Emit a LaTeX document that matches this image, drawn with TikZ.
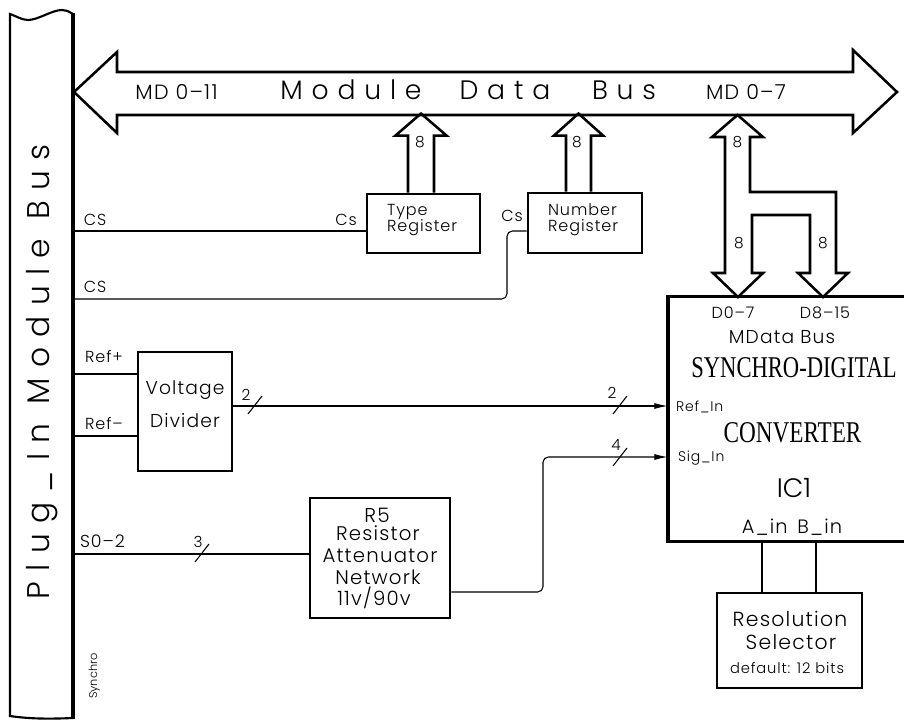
\documentclass[tikz,border=0pt]{standalone}
\usepackage{fontspec}
\usepackage{graphicx}
\setmainfont{Poppins Light}[LetterSpace=6]
\newfontfamily\widefam{Poppins Light}[LetterSpace=33]
\newfontfamily\plainfam{Poppins Light}
\newfontfamily\serifc{Liberation Serif}
\usetikzlibrary{arrows.meta,calc}
\newcommand{\fs}[1]{\fontsize{#1}{#1}\selectfont}
\begin{document}
\begin{tikzpicture}[x=0.75pt,y=-0.75pt,
  wire/.style={line width=0.8pt},
  box/.style={draw, line width=2.2pt, inner sep=0pt},
  busline/.style={line width=1.9pt, line join=miter},
  lbl/.style={anchor=base, inner sep=0pt, outer sep=0pt},
  tip/.style={-{Latex[length=10pt,width=4.5pt]}},
  wslash/.pic={\draw[wire] (-7,9) -- (7,-9);}
]
\useasboundingbox (0,0) rectangle (904,721);

% ---------- Plug-in module bus bar ----------
\draw[line width=1.6pt] (73,14) .. controls (68,11) and (66,10) .. (62,10)
  .. controls (52,10) and (38,20) .. (28,20) .. controls (22,20) and (16,16) .. (10,14)
  -- (10,716) .. controls (30,719) and (50,719) .. (73,718);
\draw[line width=2.6pt] (73,13) -- (73,719);
\node[lbl, rotate=90, font=\widefam\fs{23.5}] (pimb) at (50,372) {Plug\_In Module Bus};
\node[lbl, rotate=90, font=\plainfam\fs{8.5}] (syn) at (97,676) {Synchro};

% ---------- Module data bus ----------
\draw[busline] (74,92) -- (117,52) -- (117,72) -- (853,72) -- (853,50) -- (897,92)
  -- (853,133) -- (853,115) -- (117,115) -- (117,133) -- cycle;
\node[lbl, font=\fs{15.5}] (md11) at (176.5,99) {MD 0–11};
\node[lbl, font=\widefam\fs{20}] (w1) at (351,99) {Module};
\node[lbl, font=\widefam\fs{20}] (w2) at (505,99) {Data};
\node[lbl, font=\widefam\fs{20}] (w3) at (624,99) {Bus};
\node[lbl, font=\fs{15.5}] (md7) at (746,99) {MD 0–7};

% ---------- registers ----------
\node[box, minimum width=84.75pt, minimum height=44.25pt] (tr) at (423.5,223.5) {};
\node[lbl, anchor=base west, font=\fs{12}] at (387,215) {Type};
\node[lbl, anchor=base west, font=\fs{12}] at (387,231) {Register};
\node[box, minimum width=85.5pt, minimum height=45pt] (nr) at (585,223) {};
\node[lbl, anchor=base west, font=\fs{12}] at (548,215) {Number};
\node[lbl, anchor=base west, font=\fs{12}] at (548,231) {Register};

\draw[busline] ($(tr.north)+(-15.5,0)$) -- ++(0,-57) -- ++(-12.5,0) -- ++(25.5,-22)
  -- ++(25.5,22) -- ++(-12.5,0) -- ++(0,57);
\node[lbl, font=\fs{11.5}] at (420,147) {8};
\draw[busline] ($(nr.north)+(-19,0)$) -- ++(0,-56) -- ++(-12,0) -- ++(24.5,-22)
  -- ++(24.5,22) -- ++(-12,0) -- ++(0,56);
\node[lbl, font=\fs{11.5}] at (577,147) {8};

% ---------- chip-select lines ----------
\coordinate (cs1) at (73,231);
\coordinate (cs2) at (73,299);
\coordinate (ycs) at (0,231);
\coordinate (xcs) at (507,0);
\draw[wire] (cs1) -- (cs1 -| tr.west);
\draw[wire, rounded corners=4pt] (cs2) -- (xcs |- cs2) -- (xcs |- ycs) -- (nr.west |- ycs);
\node[lbl, font=\fs{12}] at (95,225) {CS};
\node[lbl, font=\fs{12}] at (346,225) {Cs};
\node[lbl, font=\fs{12}] at (95,292) {CS};
\node[lbl, font=\fs{12}] at (512,221) {Cs};

% ---------- converter ----------
\node[minimum width=180pt, minimum height=183pt, inner sep=0pt] (cv) at (788,419) {};
\draw[line width=2.3pt] (cv.north east) -- (cv.north west) -- (cv.south west) -- (cv.south east);
\draw[line width=3.2pt] (cv.north west) -- (cv.south west);
\node[lbl, font=\fs{12}] at (733,318) {D0–7};
\node[lbl, font=\fs{12}] at (825,318) {D8–15};
\node[lbl, font=\fs{14}] at (782,343) {MData Bus};
\node[lbl, font=\serifc\fs{22.6}] at (794,377) {\scalebox{0.75}[1]{SYNCHRO-DIGITAL}};
\node[lbl, font=\serifc\fs{22.6}] at (792.5,442) {\scalebox{0.77}[1]{CONVERTER}};
\node[lbl, anchor=base west, font=\fs{10.5}] at (676,411) {Ref\_In};
\node[lbl, anchor=base west, font=\fs{10.5}] at (678,461) {Sig\_In};
\node[lbl, font=\plainfam\fs{20}] at (794,497) {IC1};
\node[lbl, font=\fs{14.5}] at (792,533) {A\_in\, B\_in};

% converter data bus (from module bus, split 8+8)
\draw[busline] (725,137) -- (725,273) -- (713,273) -- (738,297) -- (763,273) -- (752,273)
  -- (752,215) -- (810,215) -- (810,273) -- (798,273) -- (823,297) -- (848,273)
  -- (836,273) -- (836,192) -- (750,192) -- (750,137) -- (763,137) -- (737.5,115)
  -- (712,137) -- cycle;
\node[lbl, font=\fs{11.5}] at (737.5,147) {8};
\node[lbl, font=\fs{11.5}] at (739,248) {8};
\node[lbl, font=\fs{11.5}] at (823,248) {8};

% ---------- voltage divider ----------
\node[box, minimum width=70.5pt, minimum height=89.25pt] (vd) at (185,411.5) {};
\node[lbl, font=\fs{14}] at (185,394) {Voltage};
\node[lbl, font=\fs{14}] at (185,427) {Divider};
\coordinate (refp) at (73,374);
\coordinate (refm) at (73,436);
\draw[wire] (refp) -- (refp -| vd.west);
\draw[wire] (refm) -- (refm -| vd.west);
\node[lbl, anchor=base west, font=\fs{12}] at (85,362) {Ref+};
\node[lbl, anchor=base west, font=\fs{12}] at (85,429) {Ref–};
\coordinate (yr) at (0,406);
\draw[wire, tip] (vd.east |- yr) -- (cv.west |- yr);
\pic at (255,405) {wslash};
\node[lbl, font=\fs{11.5}] at (246,400) {2};
\pic at (620,405) {wslash};
\node[lbl, font=\fs{11.5}] at (612,398) {2};

% ---------- attenuator ----------
\node[box, minimum width=105pt, minimum height=90pt] (att) at (380,558) {};
\node[lbl, font=\fs{15}] at (377,522) {R5};
\node[lbl, font=\fs{14.8}] at (378,540) {Resistor};
\node[lbl, font=\fs{14.8}] at (380,562) {Attenuator};
\node[lbl, font=\fs{14.8}] at (378,584) {Network};
\node[lbl, font=\fs{14.8}] at (374,605) {11v/90v};
\coordinate (s02) at (73,554);
\draw[wire] (s02) -- (s02 -| att.west);
\node[lbl, anchor=base west, font=\fs{13}] at (80,547) {S0–2};
\pic at (202,553) {wslash};
\node[lbl, font=\fs{11.5}] at (198,547) {3};
\coordinate (ys) at (0,457);
\coordinate (ya) at (0,592);
\coordinate (xs) at (543,0);
\draw[wire, rounded corners=4pt, tip] (att.east |- ya) -- (xs |- ya) -- (xs |- ys) -- (cv.west |- ys);
\pic at (620,457) {wslash};
\node[lbl, font=\fs{11.5}] at (616,450) {4};

% ---------- resolution selector ----------
\node[box, minimum width=108.75pt, minimum height=71.25pt] (rs) at (789.5,640.5) {};
\node[lbl, font=\fs{15.3}] at (790,626) {Resolution};
\node[lbl, font=\fs{15.3}] at (791,649) {Selector};
\node[lbl, font=\fs{11}] at (787,673) {default: 12 bits};
\coordinate (xa) at (762,0);
\coordinate (xb) at (816,0);
\draw[wire] (xa |- cv.south) -- (xa |- rs.north);
\draw[wire] (xb |- cv.south) -- (xb |- rs.north);
\end{tikzpicture}
\end{document}
